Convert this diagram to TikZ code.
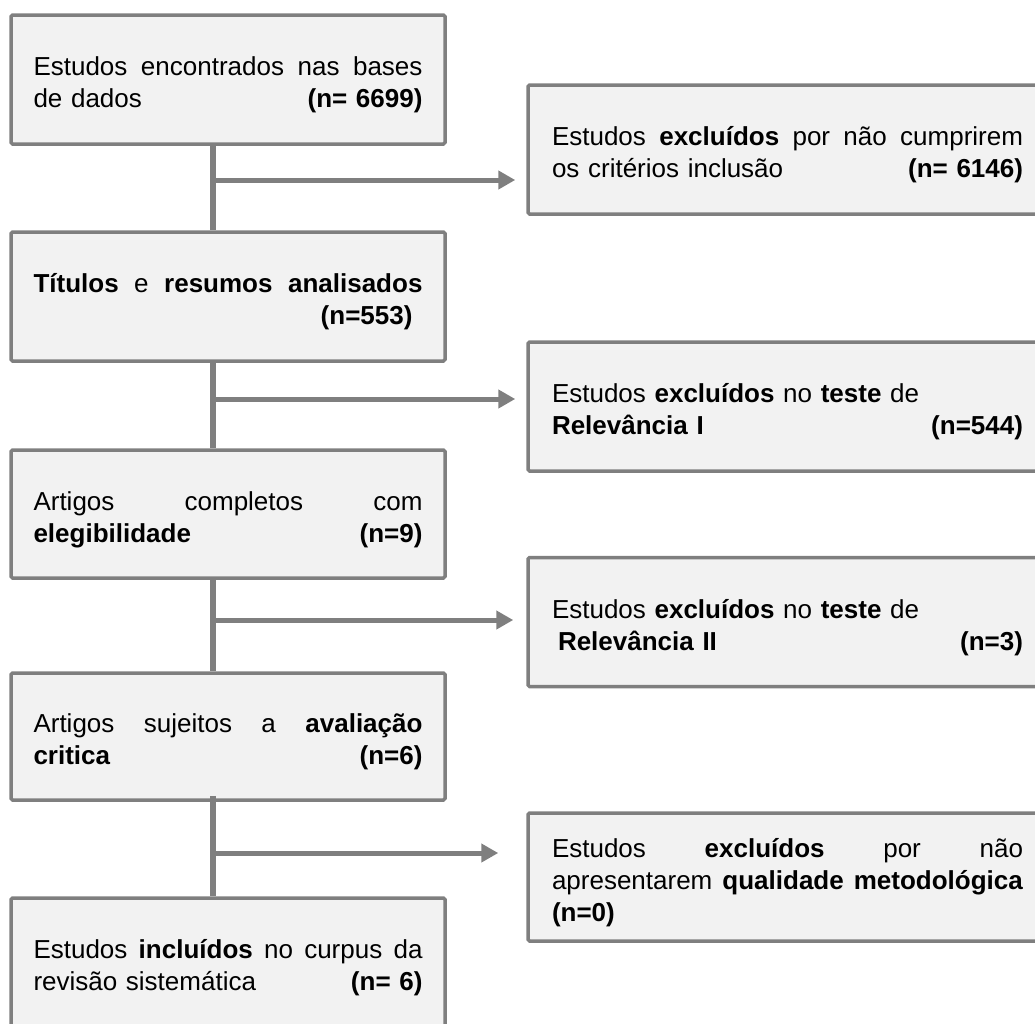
\documentclass[tikz,border=0pt]{standalone}
\usepackage{fontspec}
\setmainfont{Liberation Sans}
\usetikzlibrary{arrows.meta}

\definecolor{edge}{HTML}{7F7F7F}
\definecolor{boxfill}{HTML}{F2F2F2}

% invisible strut that fixes the height of the first line of a box
\newcommand\padtop{\rule{0pt}{30pt}}
% stretchable gap between the words of a justified line
\newcommand\gap{\hspace{0pt plus 1fill}}
% one line stretched to the full width (words separated by \gap)
\newcommand\spread[1]{\makebox[\linewidth]{#1}\par}
% one line with a left part and a right-aligned part
\newcommand\twoends[2]{\makebox[\linewidth]{#1\hfill#2}\par}
% one line at its natural width
\newcommand\plainline[1]{\makebox[\linewidth][l]{#1}\par}

\tikzset{
  stage/.style={draw=edge, line width=3.5pt, fill=boxfill, rounded corners=1.5pt,
    minimum width=434pt, minimum height=129pt, text width=389pt, inner sep=0pt,
    font=\fontsize{26}{32}\selectfont},
  excl/.style={stage, minimum width=519pt, text width=471pt},
  spine/.style={draw=edge, line width=5.3pt},
  branch/.style={draw=edge, line width=5pt, -{Triangle[length=17pt,width=18pt]}}
}

\begin{document}
\begin{tikzpicture}[x=1pt,y=-1pt]
\useasboundingbox (0,0) rectangle (1035,1023);
\clip (0,0) rectangle (1035,1023);

% main column
\node[stage] (b1) at (228,79.5) {\padtop
  \spread{Estudos \gap encontrados \gap nas \gap bases}
  \twoends{de dados}{\textbf{(n= 6699)}}};
\node[stage] (b2) at (228,296.5) {\padtop
  \spread{\textbf{Títulos} \gap e \gap \textbf{resumos} \gap \textbf{analisados}}
  \twoends{}{\textbf{(n=553)}\hspace{10pt}}};
\node[stage, minimum height=128pt] (b3) at (228,514) {\padtop
  \spread{Artigos \gap completos \gap com}
  \twoends{\textbf{elegibilidade}}{\textbf{(n=9)}}};
\node[stage, minimum height=127pt] (b4) at (228,736.5) {\padtop
  \spread{Artigos \gap sujeitos \gap a \gap \textbf{avaliação}}
  \twoends{\textbf{critica}}{\textbf{(n=6)}}};
\node[stage] (b5) at (228,962.5) {\padtop
  \spread{Estudos \gap \textbf{incluídos} \gap no \gap curpus \gap da}
  \twoends{revisão sistemática}{\textbf{(n= 6)}}};

% exclusion boxes
\node[excl] (r1) at (787.5,149.5) {\padtop
  \spread{Estudos \gap \textbf{excluídos} \gap por \gap não \gap cumprirem}
  \twoends{os critérios inclusão}{\textbf{(n= 6146)}}};
\node[excl] (r2) at (787.5,406.5) {\padtop
  \plainline{Estudos \textbf{excluídos} no \textbf{teste} de}
  \twoends{\textbf{Relevância I}}{\textbf{(n=544)}}};
\node[excl] (r3) at (787.5,622) {\padtop
  \plainline{Estudos \textbf{excluídos} no \textbf{teste} de}
  \twoends{\hspace{6pt}\textbf{Relevância II}}{\textbf{(n=3)}}};
\node[excl, minimum height=128pt] (r4) at (787.5,877) {\padtop
  \spread{Estudos \gap \textbf{excluídos} \gap por \gap não}
  \spread{apresentarem \gap \textbf{qualidade} \gap \textbf{metodológica}}
  \plainline{\textbf{(n=0)}}};

% vertical flow
\draw[spine] ([xshift=-15pt]b1.south) -- ([xshift=-15pt]b2.north);
\draw[spine] ([xshift=-15pt]b2.south) -- ([xshift=-15pt]b3.north);
\draw[spine] ([xshift=-15pt]b3.south) -- ([xshift=-15pt]b4.north);
\draw[spine] ([xshift=-15pt,yshift=6pt]b4.south) -- ([xshift=-15pt]b5.north);

% branches to the exclusion boxes
\coordinate (j1) at (213,180);
\coordinate (j2) at (213,399);
\coordinate (j3) at (213,620);
\coordinate (j4) at (213,853);
\draw[branch, shorten >=11pt] (j1) -- (j1 -| r1.west);
\draw[branch, shorten >=11pt] (j2) -- (j2 -| r2.west);
\draw[branch, shorten >=13pt] (j3) -- (j3 -| r3.west);
\draw[branch, shorten >=28pt] (j4) -- (j4 -| r4.west);
\end{tikzpicture}
\end{document}
